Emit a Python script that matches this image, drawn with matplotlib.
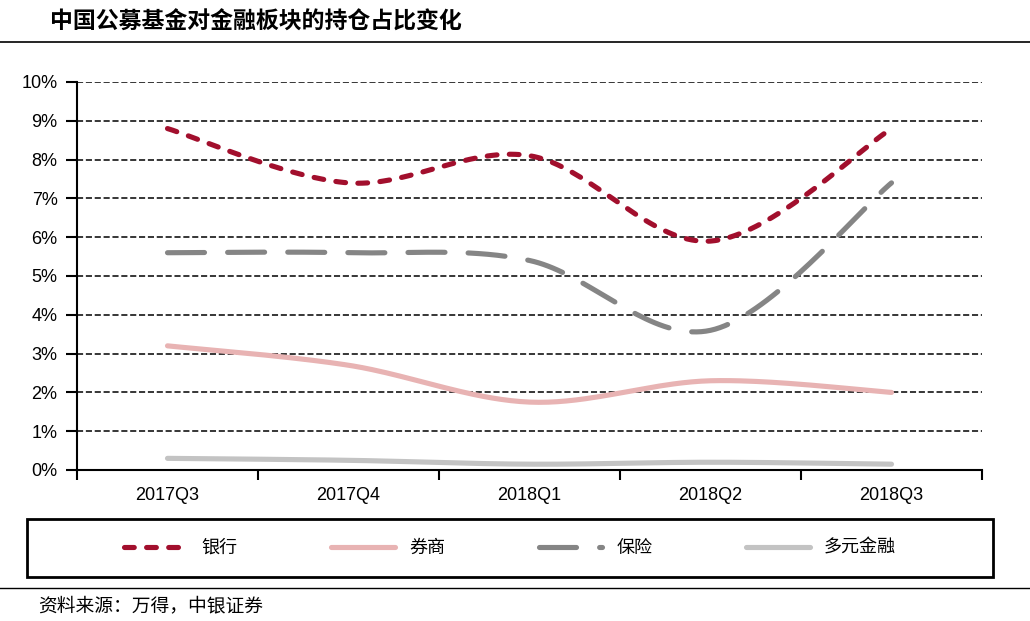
import numpy as np
import matplotlib
matplotlib.use('Agg')
from matplotlib import pyplot as plt
from matplotlib.lines import Line2D

plt.rcParams['font.family'] = ['Liberation Sans', 'Noto Sans CJK SC', 'DejaVu Sans']

# 数据（单位：%）
quarters = ['2017Q3', '2017Q4', '2018Q1', '2018Q2', '2018Q3']
bank = [8.8, 7.4, 8.1, 5.9, 8.8]          # 银行
broker = [3.2, 2.7, 1.75, 2.3, 2.0]       # 券商
insurance = [5.6, 5.6, 5.4, 3.6, 7.4]     # 保险
diversified = [0.3, 0.25, 0.15, 0.2, 0.15]  # 多元金融


def smooth(x, y, n=40):
    # 类似 Excel 的平滑线 (Catmull-Rom -> Bezier)
    x = np.asarray(x, float)
    y = np.asarray(y, float)
    px, py = [], []
    for i in range(len(x) - 1):
        x0, y0 = (x[i - 1], y[i - 1]) if i > 0 else (x[i], y[i])
        x3, y3 = (x[i + 2], y[i + 2]) if i + 2 < len(x) else (x[i + 1], y[i + 1])
        x1, y1, x2, y2 = x[i], y[i], x[i + 1], y[i + 1]
        c1x, c1y = x1 + (x2 - x0) / 6, y1 + (y2 - y0) / 6
        c2x, c2y = x2 - (x3 - x1) / 6, y2 - (y3 - y1) / 6
        t = np.linspace(0, 1, n)
        bx = (1-t)**3*x1 + 3*(1-t)**2*t*c1x + 3*(1-t)*t**2*c2x + t**3*x2
        by = (1-t)**3*y1 + 3*(1-t)**2*t*c1y + 3*(1-t)*t**2*c2y + t**3*y2
        px.extend(bx)
        py.extend(by)
    return np.array(px), np.array(py)


fig = plt.figure(figsize=(10.3, 6.21), dpi=100)
ax = fig.add_axes([77/1030, 1-470/621, 905/1030, 388/621])

xs = np.arange(len(quarters))
series = [
    (bank, '银行', '#A20F2D', (0, (1.9, 2.4))),
    (broker, '券商', '#E8B3B3', '-'),
    (insurance, '保险', '#858585', (0, (7.2, 4.5))),
    (diversified, '多元金融', '#C3C3C3', '-'),
]
for vals, name, color, ls in series:
    sx, sy = smooth(xs, vals)
    ax.plot(sx, sy, color=color, lw=3.7, ls=ls, solid_capstyle='round',
            dash_capstyle='round', label=name, zorder=3)

ax.set_xlim(-0.5, len(quarters) - 0.5)
ax.set_ylim(0, 10)
ax.set_yticks(range(0, 11))
ax.set_yticklabels([f'{i}%' for i in range(0, 11)], fontsize=13)
ax.set_xticks(xs)
ax.set_xticklabels(quarters, fontsize=13)
ax.set_xticks(np.arange(-0.5, len(quarters)), minor=True)
ax.tick_params(axis='x', which='major', length=0, pad=12)
ax.tick_params(axis='x', which='minor', length=7, width=1.5)
ax.tick_params(axis='y', length=8, width=1.5, pad=6)

for v in range(1, 11):
    ax.axhline(v, color='black', lw=1.1, ls=(0, (4, 1.8)), zorder=1)

for s in ['top', 'right']:
    ax.spines[s].set_visible(False)
ax.spines['left'].set_linewidth(1.5)
ax.spines['bottom'].set_linewidth(1.5)

# 标题
fig.text(50/1030, 1-22/621, '中国公募基金对金融板块的持仓占比变化', fontsize=16.5,
         fontweight='bold', family=['Noto Sans CJK SC'], va='center', ha='left')
fig.add_artist(Line2D([0, 1], [1-42/621, 1-42/621], color='black', lw=1.2))

# 图例
handles, labels = ax.get_legend_handles_labels()
leg = fig.legend(handles, labels, loc='center', ncol=4,
                 bbox_to_anchor=(27/1030, 1-577/621, 966/1030, 58/621),
                 frameon=False, handlelength=3.5, columnspacing=5.2,
                 prop={'family': ['Noto Sans CJK SC'], 'size': 13},
                 borderaxespad=0, handletextpad=0.8)
fig.add_artist(plt.Rectangle((27/1030, 1-577/621), 966/1030, 58/621,
                             transform=fig.transFigure, fill=False,
                             edgecolor='black', lw=2))

# 资料来源
fig.add_artist(Line2D([0, 1], [1-588/621, 1-588/621], color='black', lw=1))
fig.text(38/1030, 1-606/621, '资料来源：万得，中银证券', fontsize=13.5,
         family=['Noto Sans CJK SC'], va='center', ha='left')

plt.savefig('out.png', dpi=100)
